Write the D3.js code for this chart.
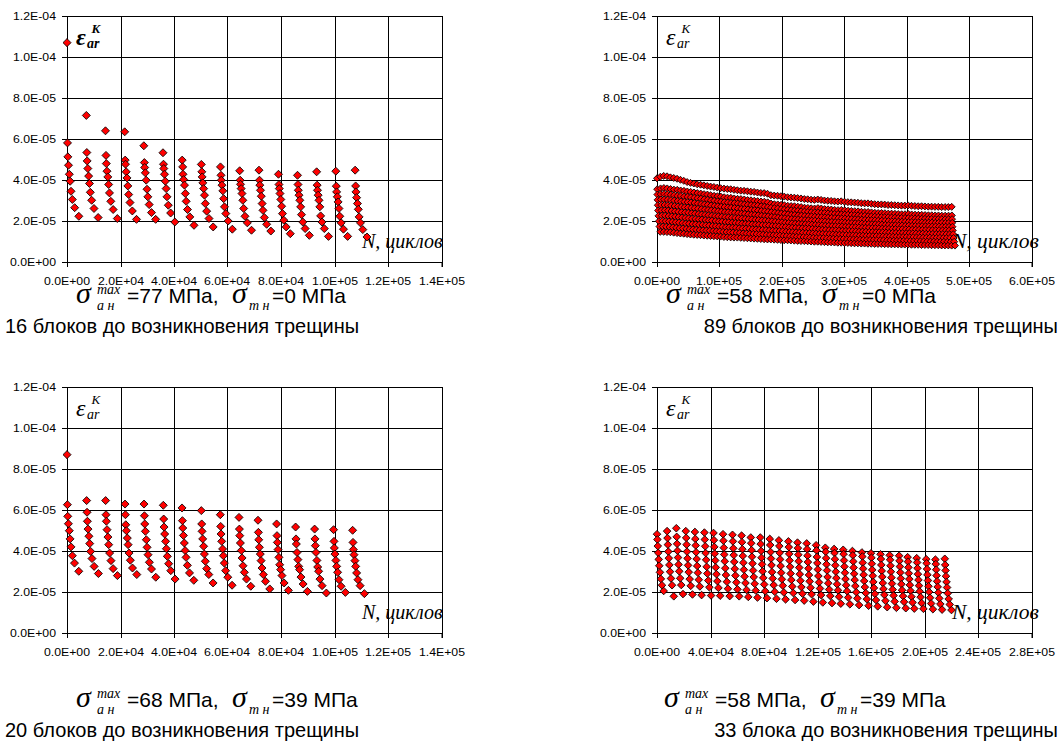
<!DOCTYPE html>
<html>
<head>
<meta charset="utf-8">
<script src="https://cdn.jsdelivr.net/npm/d3@7"></script>
<style>
  body { margin: 0; background: #fff; }
  svg { display: block; }
</style>
</head>
<body>
<svg id="chart" width="1061" height="744"></svg>
<script>
// ---- axis ticks ----
const yTickValues = [0, 2e-5, 4e-5, 6e-5, 8e-5, 1.0e-4, 1.2e-4];
const xTicks77 = [0, 2e4, 4e4, 6e4, 8e4, 1.0e5, 1.2e5, 1.4e5];
const xTicks58a = [0, 1e5, 2e5, 3e5, 4e5, 5e5, 6e5];
const xTicks68 = [0, 2e4, 4e4, 6e4, 8e4, 1.0e5, 1.2e5, 1.4e5];
const xTicks58b = [0, 4e4, 8e4, 1.2e5, 1.6e5, 2.0e5, 2.4e5, 2.8e5];

// ---- 77 MPa / 0 MPa : 16 blocks, amplitudes in 1e-6 ----
const p77Starts = [0, 7220, 14385, 21560, 28725, 35880, 43055, 50215, 57375, 64545, 71770, 79055, 86165, 93325, 100485, 107715];
const p77Offsets = [0, 190, 310, 560, 870, 1185, 1495, 1995, 2865, 4425];
const p77Blocks = [
  [107, 58.1, 51.3, 47.2, 42.8, 39.4, 34.5, 30.5, 26.5, 22.3],
  [71.5, 53.4, 49.3, 45.6, 41.9, 38.3, 34.0, 30.1, 26.1, 21.7],
  [64.0, 52.0, 48.0, 44.3, 41.5, 37.8, 33.7, 29.6, 25.6, 21.2],
  [63.5, 49.7, 47.7, 44.0, 41.0, 37.1, 32.9, 29.0, 24.9, 20.8],
  [56.7, 48.5, 46.1, 43.5, 39.9, 35.5, 31.8, 28.0, 24.1, 20.8],
  [53.3, 47.7, 45.6, 42.8, 39.4, 35.8, 31.8, 27.7, 23.9, 19.5],
  [49.7, 46.4, 42.8, 40.2, 37.5, 33.4, 29.6, 25.6, 22.0, 17.9],
  [47.6, 44.0, 41.5, 38.6, 35.8, 32.6, 28.5, 24.8, 21.2, 17.1],
  [46.4, 42.3, 39.9, 37.5, 34.7, 30.9, 26.9, 23.6, 20.0, 16.0],
  [44.5, 39.9, 37.9, 35.8, 33.4, 30.1, 26.1, 22.3, 19.1, 15.5],
  [44.8, 39.9, 37.5, 35.0, 32.1, 28.5, 25.2, 21.7, 18.4, 15.1],
  [42.8, 37.8, 35.8, 33.4, 30.5, 27.2, 23.6, 20.4, 17.1, 13.8],
  [42.3, 37.8, 35.0, 32.6, 30.1, 26.9, 23.1, 19.5, 16.3, 13.0],
  [44.0, 37.5, 35.0, 32.6, 30.1, 26.9, 22.5, 19.5, 16.3, 12.5],
  [44.3, 37.0, 34.2, 31.8, 29.3, 26.1, 22.3, 19.1, 16.0, 12.5],
  [44.8, 37.1, 34.2, 31.4, 28.5, 25.7, 22.0, 19.1, 15.8, 12.2]
];

// ---- 68 MPa / 39 MPa : amplitudes in 1e-6 ----
const p68Starts = [0, 7340, 14440, 21690, 28790, 36000, 43000, 50210, 57310, 64300, 71400, 78360, 85460, 92560, 99660, 106770];
const p68Offsets = [0, 150, 280, 520, 860, 1150, 1500, 2000, 2800, 4400];
const p68Blocks = [
  [87.0, 62.6, 56.9, 53.3, 49.9, 45.9, 42.0, 37.7, 34.1, 30.1],
  [64.6, 58.9, 54.5, 50.7, 47.2, 43.6, 39.8, 36.3, 32.5, 29.0],
  [64.6, 57.7, 54.5, 50.4, 46.8, 43.1, 39.0, 35.3, 31.4, 28.0],
  [62.9, 57.7, 52.8, 49.9, 46.3, 43.1, 39.0, 35.5, 31.7, 28.5],
  [62.9, 57.2, 53.2, 49.6, 45.5, 41.8, 38.2, 34.5, 31.2, 27.2],
  [62.3, 55.6, 51.7, 48.3, 44.7, 41.1, 37.4, 33.8, 30.4, 26.3],
  [61.0, 54.8, 51.2, 47.6, 43.9, 40.2, 36.9, 33.0, 29.3, 25.7],
  [59.7, 53.2, 49.6, 45.9, 42.3, 38.5, 35.0, 31.4, 28.5, 24.4],
  [57.7, 52.0, 48.3, 44.7, 41.0, 37.7, 34.1, 30.4, 27.2, 23.3],
  [56.4, 50.7, 47.5, 43.9, 40.2, 36.6, 32.8, 29.6, 26.3, 22.8],
  [55.0, 49.1, 45.5, 41.8, 38.5, 35.3, 31.7, 28.5, 25.2, 21.5],
  [53.2, 47.5, 44.2, 40.7, 36.9, 33.3, 30.9, 28.0, 24.4, 20.8],
  [51.7, 45.9, 43.4, 39.3, 35.8, 32.5, 30.9, 27.3, 23.9, 20.3],
  [50.7, 45.9, 42.6, 39.3, 35.4, 32.2, 30.1, 26.3, 23.1, 19.5],
  [50.4, 44.7, 41.5, 38.5, 35.4, 32.5, 29.6, 26.0, 22.8, 19.8],
  [50.1, 44.2, 40.7, 38.2, 35.3, 32.5, 29.3, 26.0, 23.1, 19.2]
];

// ---- 58 MPa / 0 MPa : 89 equal blocks; each row is one step of the block, in 1e-6 ----
const p58aBlockLength = 5365;
const p58aOffsets = [0, 300, 600, 900, 1300, 1800, 2300, 3000, 4000, 5300];
const p58aRows = [
  [40.8,41.6,42.0,41.8,41.3,41.0,40.6,40.1,39.6,39.0, 38.6,38.3,37.9,37.7,37.4,37.1,36.8,36.6,36.3,36.0, 35.8,35.6,35.5,35.2,35.0,34.8,34.7,34.5,34.3,34.2, 33.9,33.7,33.6,33.3,32.6,32.4,32.3,32.1,31.9,31.6, 31.5,31.4,31.2,31.0,30.7,30.6,30.4,30.3,30.5,30.3, 30.0,29.9,29.8,29.6,29.5,29.6,29.4,29.2,29.1,29.0, 28.9,28.7,28.6,28.6,28.4,28.2,28.1,28.1,28.0,27.8, 27.8,27.7,27.6,27.5,27.5,27.6,27.4,27.3,27.2,27.2, 27.1,27.0,27.0,26.9,26.9,26.8,26.8,26.8,26.9],
  [35.5,35.9,36.1,35.9,35.6,35.3,35.2,34.9,34.7,34.4, 34.2,33.9,33.6,33.4,33.1,32.9,32.6,32.3,32.1,31.9, 31.6,31.4,31.3,31.0,30.8,30.7,30.5,30.2,30.1,29.9, 29.7,29.5,29.4,29.1,28.5,28.2,28.1,27.9,27.7,27.4, 27.3,27.2,27.0,26.8,26.5,26.4,26.2,26.1,26.3,26.1, 25.8,25.7,25.6,25.4,25.3,25.4,25.2,25.0,24.9,24.8, 24.7,24.5,24.4,24.4,24.2,24.0,23.9,23.9,23.8,23.6, 23.6,23.5,23.4,23.3,23.3,23.4,23.2,23.1,23.0,23.0, 22.9,22.8,22.8,22.7,22.7,22.6,22.6,22.6,22.7],
  [32.9,33.1,33.2,33.0,32.8,32.6,32.3,32.2,31.9,31.8, 31.6,31.3,31.1,30.9,30.6,30.4,30.1,29.9,29.6,29.4, 29.2,29.0,28.8,28.7,28.5,28.3,28.1,27.9,27.8,27.6, 27.5,27.2,27.0,26.8,26.6,26.3,26.2,25.9,25.7,25.5, 25.3,25.1,25.0,24.8,24.7,24.5,24.4,24.2,24.1,24.0, 23.9,23.7,23.6,23.5,23.4,23.3,23.2,23.1,23.0,22.9, 22.8,22.7,22.6,22.4,22.4,22.2,22.1,22.0,22.0,21.9, 21.8,21.7,21.6,21.6,21.5,21.5,21.4,21.3,21.3,21.2, 21.2,21.1,21.1,21.0,21.0,21.0,20.9,20.9,20.9],
  [30.3,30.5,30.5,30.4,30.2,30.0,29.8,29.6,29.4,29.2, 29.0,28.8,28.5,28.3,28.1,27.9,27.6,27.4,27.2,27.0, 26.8,26.6,26.5,26.3,26.1,25.9,25.8,25.6,25.4,25.3, 25.1,24.9,24.7,24.5,24.3,24.1,23.9,23.7,23.5,23.3, 23.1,23.0,22.8,22.7,22.5,22.4,22.3,22.1,22.0,21.9, 21.8,21.7,21.6,21.5,21.4,21.3,21.2,21.1,21.0,20.9, 20.8,20.7,20.6,20.5,20.5,20.4,20.3,20.2,20.1,20.0, 19.9,19.9,19.8,19.7,19.7,19.6,19.6,19.5,19.4,19.4, 19.3,19.3,19.3,19.2,19.2,19.2,19.1,19.1,19.1],
  [27.7,27.8,27.8,27.7,27.5,27.3,27.1,26.9,26.7,26.6, 26.4,26.2,26.0,25.8,25.6,25.4,25.2,25.0,24.8,24.6, 24.4,24.3,24.1,24.0,23.8,23.6,23.5,23.3,23.1,23.0, 22.8,22.6,22.4,22.3,22.1,21.9,21.7,21.5,21.4,21.2, 21.0,20.9,20.8,20.7,20.5,20.4,20.3,20.2,20.0,19.9, 19.8,19.7,19.6,19.5,19.4,19.4,19.3,19.2,19.1,19.0, 18.9,18.8,18.7,18.6,18.5,18.5,18.4,18.3,18.2,18.1, 18.0,18.0,17.9,17.9,17.8,17.8,17.7,17.7,17.6,17.6, 17.5,17.5,17.4,17.4,17.3,17.3,17.3,17.2,17.2],
  [25.1,25.2,25.2,25.1,24.9,24.7,24.5,24.3,24.1,24.0, 23.8,23.6,23.4,23.2,23.0,22.8,22.6,22.4,22.3,22.1, 21.9,21.8,21.6,21.5,21.4,21.2,21.1,20.9,20.8,20.6, 20.5,20.3,20.2,20.0,19.9,19.7,19.5,19.4,19.2,19.1, 18.9,18.8,18.7,18.6,18.5,18.4,18.3,18.2,18.0,17.9, 17.8,17.7,17.6,17.5,17.4,17.4,17.3,17.2,17.1,17.0, 16.9,16.8,16.8,16.7,16.6,16.6,16.5,16.4,16.4,16.3, 16.2,16.2,16.1,16.1,16.0,16.0,15.9,15.9,15.8,15.8, 15.7,15.7,15.6,15.6,15.6,15.5,15.5,15.5,15.4],
  [22.5,22.6,22.6,22.4,22.3,22.1,21.9,21.7,21.5,21.3, 21.1,21.0,20.8,20.7,20.5,20.3,20.2,20.0,19.8,19.7, 19.5,19.4,19.2,19.1,19.0,18.8,18.7,18.6,18.4,18.3, 18.2,18.0,17.9,17.8,17.6,17.5,17.4,17.2,17.1,16.9, 16.8,16.7,16.6,16.5,16.4,16.3,16.2,16.0,15.9,15.8, 15.7,15.6,15.5,15.5,15.4,15.3,15.2,15.2,15.1,15.0, 14.9,14.9,14.8,14.7,14.7,14.6,14.6,14.5,14.4,14.4, 14.3,14.3,14.2,14.2,14.1,14.1,14.0,14.0,13.9,13.9, 13.8,13.8,13.8,13.7,13.7,13.7,13.6,13.6,13.6],
  [19.9,20.0,19.9,19.8,19.6,19.4,19.2,19.0,18.8,18.7, 18.5,18.4,18.2,18.1,17.9,17.8,17.6,17.5,17.3,17.2, 17.0,16.9,16.8,16.7,16.5,16.4,16.3,16.2,16.0,15.9, 15.8,15.7,15.6,15.4,15.3,15.2,15.1,15.0,14.8,14.7, 14.6,14.5,14.4,14.3,14.2,14.1,14.0,13.9,13.8,13.8, 13.7,13.6,13.5,13.4,13.4,13.3,13.2,13.1,13.1,13.0, 12.9,12.9,12.8,12.8,12.7,12.7,12.6,12.6,12.5,12.5, 12.4,12.4,12.3,12.3,12.3,12.2,12.2,12.1,12.1,12.0, 12.0,12.0,11.9,11.9,11.9,11.8,11.8,11.8,11.7],
  [17.3,17.3,17.2,17.1,16.9,16.7,16.5,16.4,16.2,16.0, 15.9,15.8,15.6,15.5,15.4,15.3,15.1,15.0,14.9,14.7, 14.6,14.5,14.4,14.3,14.2,14.0,13.9,13.8,13.7,13.6, 13.5,13.4,13.3,13.2,13.1,13.0,12.9,12.8,12.7,12.6, 12.5,12.4,12.3,12.2,12.1,12.0,11.9,11.8,11.8,11.7, 11.6,11.5,11.5,11.4,11.3,11.3,11.2,11.2,11.1,11.1, 11.0,11.0,10.9,10.9,10.8,10.8,10.7,10.7,10.6,10.6, 10.5,10.5,10.5,10.4,10.4,10.3,10.3,10.3,10.2,10.2, 10.1,10.1,10.1,10.0,10.0,10.0,9.9,9.9,9.9],
  [14.7,14.7,14.6,14.5,14.3,14.1,13.9,13.8,13.6,13.4, 13.3,13.2,13.1,12.9,12.8,12.7,12.6,12.5,12.4,12.2, 12.1,12.0,11.9,11.9,11.8,11.7,11.6,11.5,11.4,11.3, 11.2,11.1,11.0,11.0,10.9,10.8,10.7,10.6,10.6,10.5, 10.4,10.3,10.2,10.2,10.1,10.0,9.9,9.9,9.8,9.7, 9.6,9.6,9.5,9.4,9.4,9.3,9.3,9.2,9.1,9.1, 9.0,9.0,8.9,8.9,8.8,8.8,8.8,8.7,8.7,8.6, 8.6,8.6,8.5,8.5,8.5,8.4,8.4,8.4,8.3,8.3, 8.3,8.2,8.2,8.2,8.1,8.1,8.1,8.0,8.0]
];

// ---- 58 MPa / 39 MPa : 32 blocks; each row is one step of the block, in 1e-6 ----
const p58bStarts = [0, 7550, 14430, 21530, 28340, 35440, 42240, 49350, 56450, 63250, 70130, 77230, 84330, 91140, 98240, 105050, 111930, 118960, 125840, 132420, 139220, 146100, 153200, 160010, 167110, 173990, 181020, 187370, 194180, 201280, 208150, 215170];
const p58bOffsets = [0, 300, 600, 900, 1300, 1700, 2200, 2900, 3700, 5000];
const p58bRows = [
  [48.2,49.7,51.1,49.7,49.3,49.0,48.8,48.2,47.9,47.5,46.6,46.6,45.9,45.2,44.7,44.1,43.7,42.8,41.6,41.0,40.6,40.0,39.3,38.9,38.4,37.9,37.7,37.0,36.5,36.0,35.8,36.2],
  [45.6,46.3,46.9,46.4,45.9,45.6,45.3,45.0,44.7,44.3,43.8,43.4,42.9,42.4,41.9,41.4,40.9,40.3,39.6,39.0,38.5,37.9,37.3,36.7,36.1,35.7,35.2,34.8,34.4,34.0,33.6,33.2],
  [42.4,43.1,43.5,43.1,42.7,42.3,42.0,41.6,41.3,40.9,40.4,40.0,39.5,39.1,38.6,38.2,37.7,37.1,36.5,36.0,35.4,34.9,34.3,33.8,33.2,32.8,32.4,32.0,31.6,31.2,30.9,30.5],
  [39.1,39.7,40.1,39.7,39.4,39.0,38.7,38.3,38.0,37.6,37.2,36.7,36.3,35.9,35.4,35.0,34.6,34.1,33.5,33.0,32.4,31.9,31.4,30.8,30.3,29.9,29.5,29.1,28.7,28.4,28.0,27.7],
  [35.9,36.5,36.8,36.4,36.1,35.7,35.4,35.0,34.7,34.3,33.9,33.5,33.1,32.7,32.3,31.9,31.5,31.0,30.5,29.9,29.4,28.9,28.4,27.9,27.4,27.0,26.6,26.3,25.9,25.6,25.2,24.9],
  [32.8,33.2,33.4,33.0,32.7,32.3,32.0,31.6,31.3,30.9,30.5,30.1,29.7,29.4,29.0,28.7,28.3,27.8,27.3,26.8,26.3,25.9,25.4,24.9,24.4,24.1,23.8,23.4,23.1,22.8,22.5,22.2],
  [29.6,29.9,30.1,29.7,29.4,29.0,28.7,28.3,28.0,27.6,27.3,26.9,26.6,26.2,25.9,25.5,25.2,24.7,24.3,23.8,23.3,22.9,22.4,22.0,21.5,21.2,20.9,20.6,20.3,20.0,19.7,19.4],
  [26.4,26.6,26.7,26.3,26.0,25.6,25.3,25.0,24.7,24.4,24.0,23.7,23.4,23.1,22.7,22.4,22.1,21.7,21.2,20.8,20.4,19.9,19.5,19.1,18.6,18.3,18.0,17.7,17.5,17.2,16.9,16.6],
  [23.3,23.3,23.4,23.0,22.7,22.3,22.0,21.6,21.3,21.0,20.7,20.4,20.1,19.8,19.5,19.2,18.9,18.5,18.1,17.7,17.3,16.9,16.5,16.1,15.7,15.4,15.2,14.9,14.6,14.4,14.1,13.9],
  [20.5,17.9,19.0,18.8,18.5,18.3,18.2,18.0,17.9,17.6,17.3,17.0,16.7,16.4,16.1,15.8,15.3,14.9,14.6,14.3,14.0,13.6,13.3,13.0,12.6,12.3,12.1,11.9,11.8,11.6,11.4,11.2]
];

// ---- captions ----
const captionTexts = [
  "16 блоков до возникновения трещины",
  "89 блоков до возникновения трещины",
  "20 блоков до возникновения трещины",
  "33 блока до возникновения трещины"
];
const ampValues = ["77", "58", "68", "58"];
const meanValues = ["0", "0", "39", "39"];

// ---------------------------------------------------------------
const SANS = "'Liberation Sans', Arial, sans-serif";
const SERIF = "'Liberation Serif', 'Times New Roman', serif";
const PW = 374.5, PH = 246;
const TICK_SX = 1.17;
const GRID = "#000";

const svg = d3.select("#chart");

const sci = v => {
  if (v === 0) return "0.0E+00";
  const e = Math.floor(Math.log10(Math.abs(v)) + 1e-9);
  const m = v / Math.pow(10, e);
  return m.toFixed(1) + "E" + (e < 0 ? "-" : "+") + String(Math.abs(e)).padStart(2, "0");
};
const crisp = v => Math.round(v) + 0.5;

function fromBlocks(starts, offsets, blocks) {
  return blocks.flatMap((vals, b) => vals.map((v, j) => ({ n: starts[b] + offsets[j], v: v * 1e-6 })));
}
function fromRows(starts, offsets, rows) {
  const out = [];
  starts.forEach((s, b) => rows.forEach((row, j) => out.push({ n: s + offsets[j], v: row[b] * 1e-6 })));
  return out;
}

const p58aStarts = d3.range(p58aRows[0].length).map(b => b * p58aBlockLength);

const panels = [
  { left: 67, top: 16, xTicks: xTicks77, pts: fromBlocks(p77Starts, p77Offsets, p77Blocks), area: 32, bold: true, nSize: 20 },
  { left: 657, top: 16, xTicks: xTicks58a, pts: fromRows(p58aStarts, p58aOffsets, p58aRows), area: 24.5, bold: false, nSize: 21.5 },
  { left: 67, top: 387, xTicks: xTicks68, pts: fromBlocks(p68Starts, p68Offsets, p68Blocks), area: 32, bold: false, nSize: 20 },
  { left: 657, top: 387, xTicks: xTicks58b, pts: fromRows(p58bStarts, p58bOffsets, p58bRows), area: 29, bold: false, nSize: 21.5 }
];

panels.forEach(p => {
  const g = svg.append("g");
  const xMax = p.xTicks[p.xTicks.length - 1];
  const x = d3.scaleLinear().domain([0, xMax]).range([p.left, p.left + PW]);
  const y = d3.scaleLinear().domain([0, 1.2e-4]).range([p.top + PH, p.top]);

  // grid
  g.append("g").selectAll("line").data(yTickValues.slice(1)).join("line")
    .attr("x1", p.left).attr("x2", crisp(p.left + PW))
    .attr("y1", d => crisp(y(d))).attr("y2", d => crisp(y(d)))
    .attr("stroke", GRID).attr("stroke-width", 1);
  g.append("g").selectAll("line").data(p.xTicks.slice(1)).join("line")
    .attr("x1", d => crisp(x(d))).attr("x2", d => crisp(x(d)))
    .attr("y1", p.top).attr("y2", p.top + PH)
    .attr("stroke", GRID).attr("stroke-width", 1);

  // axes
  const ay = g.append("g").attr("transform", `translate(${p.left},0)`)
    .call(d3.axisLeft(y).tickValues(yTickValues).tickFormat(sci).tickSize(5).tickPadding(6));
  const ax = g.append("g").attr("transform", `translate(0,${p.top + PH})`)
    .call(d3.axisBottom(x).tickValues(p.xTicks).tickFormat(sci).tickSize(5).tickPadding(11));
  [ay, ax].forEach(a => {
    a.select(".domain").attr("stroke", "#000");
    a.selectAll(".tick line").attr("stroke", "#000");
    a.selectAll("text").attr("font-family", SANS).attr("font-size", 10.5).attr("fill", "#000");
  });
  ax.selectAll(".tick").attr("transform", d => `translate(${crisp(x(d))},0)`);
  ay.selectAll(".tick text").each(function () {
    const t = d3.select(this);
    const xx = +t.attr("x");
    t.attr("x", 0).attr("transform", `translate(${xx},0) scale(${TICK_SX},1)`);
  });
  ax.selectAll(".tick text").attr("transform", `translate(-0.5,0) scale(${TICK_SX},1)`);

  // axis titles
  const eps = g.append("text").attr("font-family", SERIF).attr("font-style", "italic")
    .attr("font-weight", p.bold ? "bold" : "normal").attr("fill", "#000");
  eps.append("tspan").attr("x", p.left + 9).attr("y", p.top + 29).attr("font-size", 24).text("ε");
  eps.append("tspan").attr("x", p.left + 24.5).attr("y", p.top + 17).attr("font-size", 13).text("K");
  eps.append("tspan").attr("x", p.left + 20).attr("y", p.top + 31.5).attr("font-size", 14).text("ar");

  g.append("text").attr("x", p.left + 295).attr("y", p.top + 232)
    .attr("font-family", SERIF).attr("font-style", "italic").attr("font-size", p.nSize)
    .attr("fill", "#000").text("N, циклов");

  // measured points
  const sym = d3.symbol().type(d3.symbolSquare).size(p.area);
  g.append("g").selectAll("path").data(p.pts).join("path")
    .attr("d", sym)
    .attr("transform", d => `translate(${x(d.n)},${y(d.v)}) rotate(45)`)
    .attr("fill", "#ff0000").attr("stroke", "#000").attr("stroke-width", 0.8);
});

// ---- stress formulas and captions ----
function piece(x, y, txt, serif, size) {
  svg.append("text").attr("x", x).attr("y", y)
    .attr("font-family", serif ? SERIF : SANS)
    .attr("font-style", serif ? "italic" : "normal")
    .attr("font-size", size).attr("fill", "#000").text(txt);
}

function formula(x0, base, amp, mean) {
  piece(x0, base, "σ", true, 30);
  piece(x0 + 21, base - 9, "max", true, 14);
  piece(x0 + 21, base + 7, "а н", true, 14);
  piece(x0 + 51, base, "=" + amp + " МПа,", false, 21);
  piece(x0 + 156, base, "σ", true, 30);
  piece(x0 + 173, base + 7, "т н", true, 14);
  piece(x0 + 196, base, "=" + mean + " МПа", false, 21);
}

const formulaPos = [[76, 303], [666, 303], [76, 707], [664, 707]];
formulaPos.forEach((pos, i) => formula(pos[0], pos[1], ampValues[i], meanValues[i]));

const captionPos = [[5, 333, "start"], [1058, 333, "end"], [5, 737, "start"], [1058, 737, "end"]];
captionPos.forEach((pos, i) => {
  svg.append("text").attr("x", pos[0]).attr("y", pos[1]).attr("text-anchor", pos[2])
    .attr("font-family", SANS).attr("font-size", 20).attr("fill", "#000").text(captionTexts[i]);
});
</script>
</body>
</html>
